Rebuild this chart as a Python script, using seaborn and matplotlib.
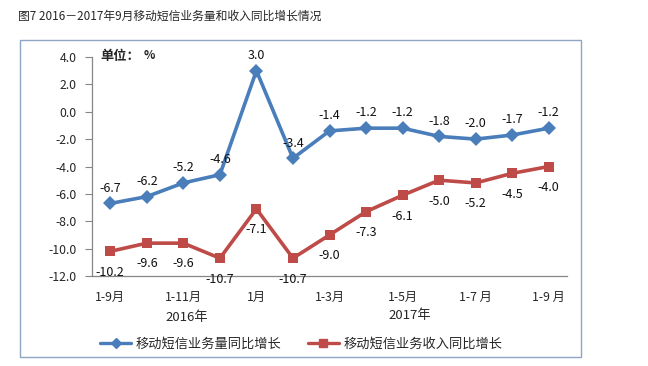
import pandas as pd
import numpy as np
import matplotlib
matplotlib.use('Agg')
import matplotlib.pyplot as plt
import matplotlib.transforms as mtransforms
from matplotlib.patches import Rectangle
import seaborn as sns

# colours (Excel-like)
BLUE = '#4A7EBB'
RED = '#BE4B48'
AXIS_GREY = '#868686'
FRAME = '#8EA5C3'

# data
periods = ['1-9月', '1-10月', '1-11月', '1-12月', '1月', '2月', '1-3月',
           '1-4月', '1-5月', '1-6月', '1-7月', '1-8月', '1-9月']
volume_growth = [-6.7, -6.2, -5.2, -4.6, 3.0, -3.4, -1.4, -1.2, -1.2, -1.8, -2.0, -1.7, -1.2]
revenue_growth = [-10.2, -9.6, -9.6, -10.7, -7.1, -10.7, -9.0, -7.3, -6.1, -5.0, -5.2, -4.5, -4.0]
series_names = ['移动短信业务量同比增长', '移动短信业务收入同比增长']
shown_ticks = ['1-9月', '1-11月', '1月', '1-3月', '1-5月', '1-7 月', '1-9 月']
years = ['2016年', '2017年']
y_ticks = [4.0, 2.0, 0.0, -2.0, -4.0, -6.0, -8.0, -10.0, -12.0]

idx = np.arange(len(periods))
df = pd.DataFrame({
    'pos': np.concatenate([idx, idx]),
    'value': volume_growth + revenue_growth,
    'series': [series_names[0]] * len(idx) + [series_names[1]] * len(idx),
})

sns.set_style('white')
plt.rcParams['font.family'] = ['Noto Sans CJK SC', 'DejaVu Sans']
plt.rcParams['axes.unicode_minus'] = False

fig = plt.figure(figsize=(6.48, 3.66), dpi=100)
ax = fig.add_axes([92 / 648, 1 - 276 / 366, 475 / 648, 219 / 366])

sns.lineplot(data=df, x='pos', y='value', hue='series', style='series',
             palette=[BLUE, RED], markers=['D', 's'], dashes=False,
             linewidth=2.6, markersize=7, markeredgewidth=0, ax=ax, legend=False)

# data labels
for x, v in zip(idx, volume_growth):
    ax.annotate(f'{v:.1f}', (x, v), xytext=(0, 11), textcoords='offset points',
                ha='center', va='center', fontsize=9, color='#111111')
for x, v in zip(idx, revenue_growth):
    ax.annotate(f'{v:.1f}', (x, v), xytext=(0, -15), textcoords='offset points',
                ha='center', va='center', fontsize=9, color='#111111')

ax.set_xlim(-0.5, len(periods) - 0.5)
ax.set_ylim(-12, 4)
ax.set_yticks(y_ticks)
ax.set_yticklabels([f'{t:.1f}' for t in y_ticks], fontsize=8.8)
ax.set_xticks(idx[::2])
ax.set_xticklabels(shown_ticks, fontsize=8.8)
ax.set_xticks(idx[1:-1:2] + 0.5, minor=True)
ax.tick_params(axis='x', which='major', length=0, pad=11)
ax.tick_params(axis='x', which='minor', direction='in', length=4, color=AXIS_GREY, width=0.8)
ax.tick_params(axis='y', direction='out', length=5, color=AXIS_GREY, width=0.8, pad=6, left=True)
ax.set_xlabel('')
ax.set_ylabel('')
for side in ['top', 'right']:
    ax.spines[side].set_visible(False)
for side in ['left', 'bottom']:
    ax.spines[side].set_color(AXIS_GREY)
    ax.spines[side].set_linewidth(0.9)

# year labels under the category axis
trans = mtransforms.blended_transform_factory(ax.transData, ax.transAxes)
ax.text(2.1, -0.19, years[0], transform=trans, ha='center', va='center', fontsize=9.5)
ax.text(8.2, -0.18, years[1], transform=trans, ha='center', va='center', fontsize=9.5)

# unit note
ax.text(0.017, 1.005, '单位：', transform=ax.transAxes, ha='left', va='center',
        fontsize=9.5, fontweight='bold')
ax.text(0.108, 1.005, '%', transform=ax.transAxes, ha='left', va='center',
        fontsize=8.5, fontweight='bold')

# legend
handles = [
    plt.Line2D([], [], color=BLUE, lw=2.4, marker='D', markersize=5),
    plt.Line2D([], [], color=RED, lw=2.4, marker='s', markersize=6),
]
fig.legend(handles, series_names, loc='center', bbox_to_anchor=(301 / 648, 1 - 344 / 366),
           ncol=2, frameon=False, fontsize=9.5, handlelength=2.4, columnspacing=2.0,
           handletextpad=0.3)

# chart frame
fig.patches.append(Rectangle((20 / 648, 1 - 357 / 366), 561 / 648, 317 / 366,
                             transform=fig.transFigure, fill=False,
                             edgecolor=FRAME, linewidth=1.0))

fig.text(18 / 648, 1 - 16 / 366, '图7 2016－2017年9月移动短信业务量和收入同比增长情况',
         ha='left', va='center', fontsize=8.5)

fig.savefig('out.png', dpi=100)
